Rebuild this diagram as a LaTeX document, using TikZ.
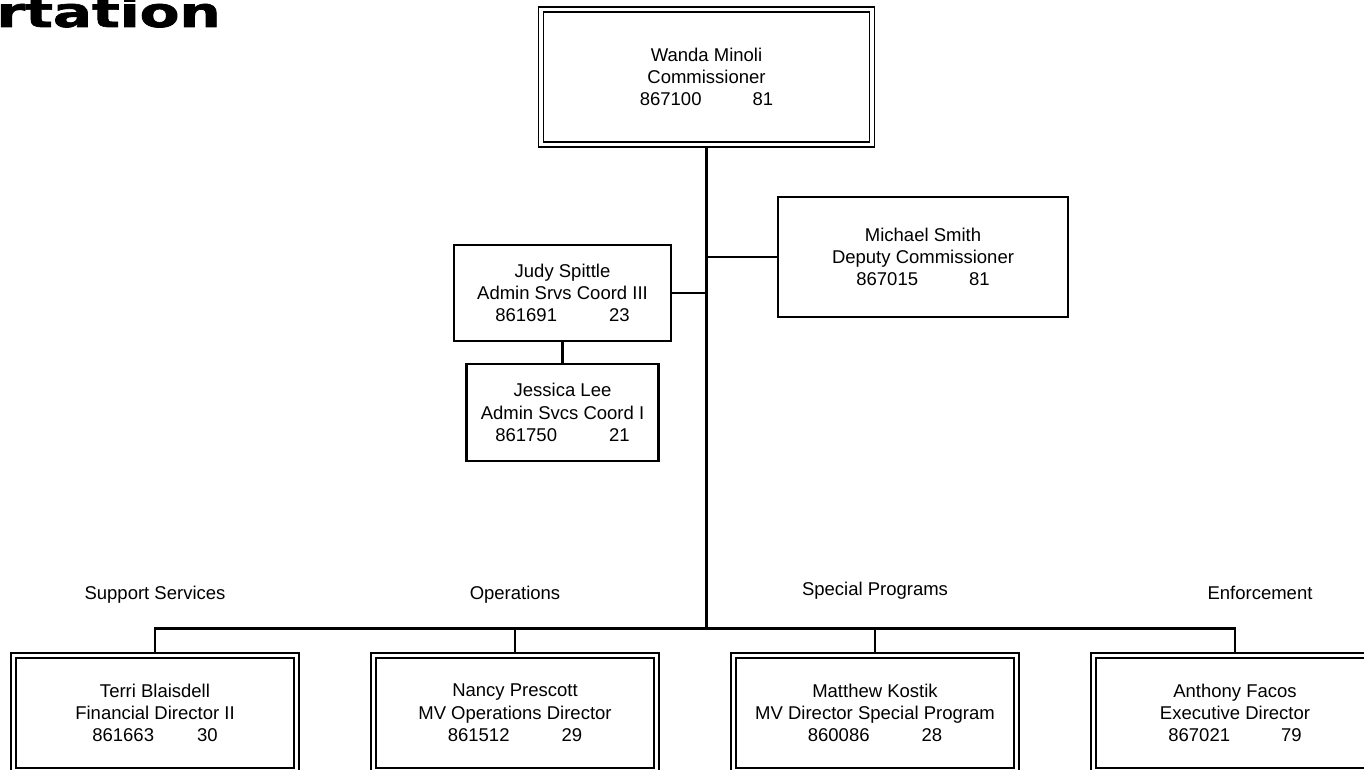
\documentclass[tikz,border=0pt]{standalone}
\usepackage{fontspec}
\usepackage{graphicx}
\setmainfont{Liberation Sans}
\newfontfamily\titlefont{DejaVu Sans}[BoldFeatures={FakeBold=1.6}]
\newcommand\boxfont{\fontsize{18.5}{22.3}\selectfont}
\begin{document}
\begin{tikzpicture}[x=1pt,y=-1pt,
  box/.style={draw, line width=2.2pt, rectangle, inner sep=0pt, align=center, font=\boxfont, outer sep=1.1pt},
  dbox/.style={box, line width=1.8pt, double, double distance=3.2pt, outer sep=3.4pt},
  conn/.style={line width=2.1pt},
  lbl/.style={anchor=base, inner sep=0pt, font=\boxfont}]
\useasboundingbox (0,0) rectangle (1364,770);

% title (cut off at the left edge, as in the reference)
\node[anchor=base east, inner sep=0pt, font=\titlefont\bfseries\fontsize{40}{40}\selectfont] (title) at (221,27) {\scalebox{1.45}[1.03]{rtation}};

% boxes
\node[dbox, minimum width=331pt, minimum height=135pt] (wanda) at (706.5,77) {Wanda Minoli\\Commissioner\\867100\hspace{51pt}81};
\node[box, minimum width=290pt, minimum height=120pt] (michael) at (923,257) {Michael Smith\\Deputy Commissioner\\867015\hspace{51pt}81};
\node[box, minimum width=217pt, minimum height=96pt] (judy) at (562.5,293) {Judy Spittle\\Admin Srvs Coord III\\861691\hspace{52pt}23};
\node[box, minimum width=192pt, minimum height=97pt] (jessica) at (562.5,412.5) {Jessica Lee\\Admin Svcs Coord I\\861750\hspace{52pt}21};

\node[dbox, minimum width=283pt, minimum height=115pt] (terri) at (155,713) {Terri Blaisdell\\Financial Director II\\861663\hspace{43pt}30};
\node[dbox, minimum width=283pt, minimum height=115pt] (nancy) at (515,713) {Nancy Prescott\\MV Operations Director\\861512\hspace{52pt}29};
\node[dbox, minimum width=283pt, minimum height=115pt] (matthew) at (875,713) {Matthew Kostik\\MV Director Special Program\\860086\hspace{52pt}28};
\node[dbox, minimum width=283pt, minimum height=115pt] (anthony) at (1235,713) {Anthony Facos\\Executive Director\\867021\hspace{51pt}79};

% group labels
\node[lbl] (lss) at (155,599) {Support Services};
\node[lbl] (lop) at (515,599) {Operations};
\node[lbl] (lsp) at (875,595) {Special Programs};
\node[lbl] (len) at (1260,599) {Enforcement};

% connectors
\coordinate (bus) at (706.5,628.5);
\draw[conn] (wanda.south) -- (bus);
\draw[conn] (judy.east) -- (judy.east -| bus);
\draw[conn] (michael.west) -- (michael.west -| bus);
\draw[conn] (judy.south) -- (jessica.north);
\draw[conn] (terri.north) |- (bus) -| (anthony.north);
\draw[conn] (nancy.north) |- (bus);
\draw[conn] (matthew.north) |- (bus);
\end{tikzpicture}
\end{document}
